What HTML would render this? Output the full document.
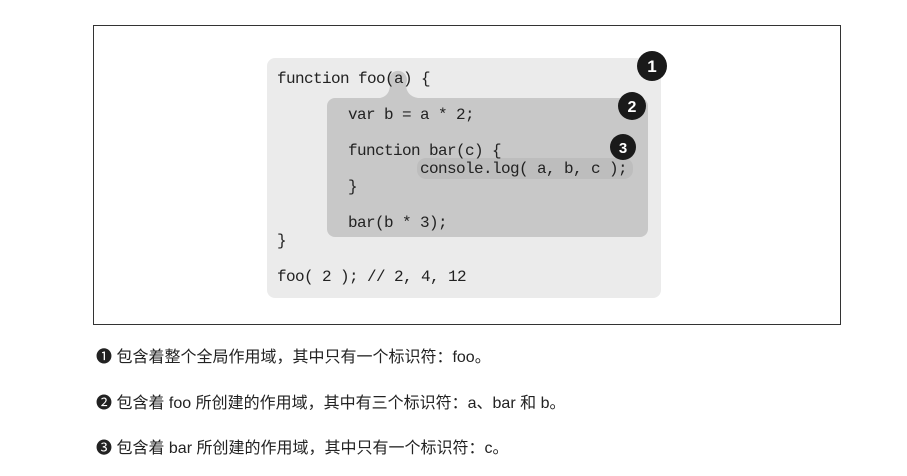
<!DOCTYPE html>
<html><head><meta charset="utf-8"><style>
html,body{margin:0;padding:0;background:#fff;width:907px;height:476px;overflow:hidden}
.code{font-family:"Liberation Mono",monospace;font-size:16px;letter-spacing:-0.6px;fill:#222}
.t{position:absolute;left:96px;font-family:"Liberation Sans","Noto Sans CJK SC",sans-serif;font-size:16px;color:#222;white-space:nowrap}
.m{font-family:"Liberation Sans",sans-serif}
</style></head><body>
<svg width="907" height="476" style="position:absolute;left:0;top:0">
<rect x="93.5" y="25.5" width="747" height="299" fill="#fff" stroke="#333" stroke-width="1"/>
<rect x="267" y="58" width="394" height="240" rx="8" fill="#ebebeb"/>
<rect x="327" y="98" width="321" height="139" rx="8" fill="#c8c8c8"/>
<path d="M380 98 Q390 96 390 84 A9 9 0 1 1 406 84 Q406 96 418 98 Z" fill="#c8c8c8"/>
<rect x="417" y="158" width="216" height="21" rx="9" fill="#bdbdbd"/>
<circle cx="652" cy="66" r="15" fill="#1a1a1a"/>
<text x="652" y="72" text-anchor="middle" font-family="Liberation Sans" font-weight="bold" font-size="17" fill="#fff">1</text>
<circle cx="632" cy="106" r="14" fill="#1a1a1a"/>
<text x="632" y="112" text-anchor="middle" font-family="Liberation Sans" font-weight="bold" font-size="16" fill="#fff">2</text>
<circle cx="623" cy="147" r="13" fill="#1a1a1a"/>
<text x="623" y="153" text-anchor="middle" font-family="Liberation Sans" font-weight="bold" font-size="15" fill="#fff">3</text>
<text class="code" x="277" y="83">function foo(a) {</text>
<text class="code" x="348" y="119">var b = a * 2;</text>
<text class="code" x="348" y="155">function bar(c) {</text>
<text class="code" x="420" y="173">console.log( a, b, c );</text>
<text class="code" x="348" y="191">}</text>
<text class="code" x="348" y="227">bar(b * 3);</text>
<text class="code" x="277" y="245">}</text>
<text class="code" x="277" y="281">foo( 2 ); // 2, 4, 12</text>
</svg>
<div class="t" style="top:343px">❶ 包含着整个全局作用域，其中只有一个标识符：<span class="m">foo</span>。</div>
<div class="t" style="top:389px">❷ 包含着 <span class="m">foo</span> 所创建的作用域，其中有三个标识符：<span class="m">a</span>、<span class="m">bar</span> 和 <span class="m">b</span>。</div>
<div class="t" style="top:434px">❸ 包含着 <span class="m">bar</span> 所创建的作用域，其中只有一个标识符：<span class="m">c</span>。</div>
</body></html>
